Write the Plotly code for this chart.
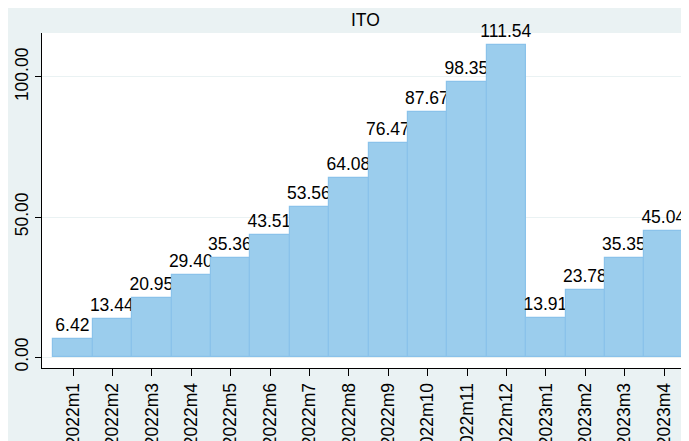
import plotly.graph_objects as go

# monthly values for ITO
months = ["2022m1", "2022m2", "2022m3", "2022m4", "2022m5", "2022m6",
          "2022m7", "2022m8", "2022m9", "2022m10", "2022m11", "2022m12",
          "2023m1", "2023m2", "2023m3", "2023m4"]
ito = [6.42, 13.44, 20.95, 29.40, 35.36, 43.51, 53.56, 64.08,
       76.47, 87.67, 98.35, 111.54, 13.91, 23.78, 35.35, 45.04]
y_ticks = [0, 50, 100]

FONT = "Liberation Sans, Arial, sans-serif"
xpos = list(range(len(months)))

fig = go.Figure()
fig.add_trace(go.Bar(
    x=xpos, y=ito, width=1,
    marker=dict(color="#9BCDED", line=dict(color="#8AC2EA", width=1.2)),
    text=ito, texttemplate="%{y:.2f}", textposition="outside",
    textangle=0, constraintext="none",
    textfont=dict(size=17.5, color="black", family=FONT),
    cliponaxis=False, showlegend=False,
))

# page body adds 8px offset, margins compensate for it
fig.update_layout(
    width=689, height=441,
    margin=dict(l=34, r=8, t=25, b=81, pad=0),
    paper_bgcolor="#EAF2F3", plot_bgcolor="white",
    font=dict(family=FONT, size=17.5, color="black"),
    bargap=0,
    annotations=[dict(text="ITO", x=0.5, y=1, xref="paper", yref="paper",
                      xanchor="center", yanchor="bottom", yshift=1,
                      showarrow=False, font=dict(size=17.5, color="black"))],
)
fig.update_xaxes(
    range=[-0.79, 15.63], tickvals=xpos, ticktext=months, tickangle=-90,
    showline=True, linecolor="black", linewidth=1, automargin=False,
    ticks="outside", ticklen=7, tickcolor="black", showgrid=False,
    zeroline=False,
)
fig.update_yaxes(
    range=[-3.9, 115.7], tickvals=y_ticks, ticktext=[f"{v:.2f}" for v in y_ticks],
    tickangle=-90, showline=True, linecolor="black", linewidth=1, automargin=False,
    ticks="outside", ticklen=6, tickcolor="black",
    showgrid=True, gridcolor="#EAF2F3", gridwidth=1, zeroline=False,
)

fig.write_html("out.html")
